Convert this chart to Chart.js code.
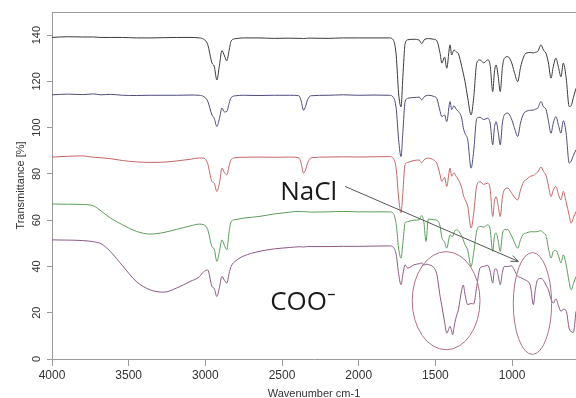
<!DOCTYPE html>
<html>
<head>
<meta charset="utf-8">
<script src="https://cdn.jsdelivr.net/npm/chart.js@4.4.1/dist/chart.umd.min.js"></script>
<style>
html, body { margin: 0; padding: 0; background: #fff; }
#wrap { width: 576px; height: 398px; position: relative; }
</style>
</head>
<body>
<div id="wrap"><canvas id="myChart"></canvas></div>
<script>
var wavenumbers = [
    4000, 3900, 3800, 3730, 3680, 3620, 3540, 3450, 3360, 3270,
    3190, 3100, 3040, 3010, 2985, 2957, 2942, 2925, 2908, 2892,
    2875, 2860, 2845, 2832, 2800, 2750, 2650, 2550, 2450, 2390,
    2375, 2360, 2348, 2332, 2310, 2200, 2100, 2000, 1900, 1800,
    1775, 1755, 1740, 1724, 1712, 1698, 1680, 1640, 1605, 1589,
    1575, 1561, 1546, 1510, 1490, 1469, 1458, 1440, 1426, 1404,
    1394, 1387, 1379, 1365, 1350, 1328, 1318, 1307, 1289, 1267,
    1250, 1230, 1209, 1185, 1159, 1143, 1126, 1115, 1104, 1090,
    1077, 1063, 1050, 1028, 1005, 985, 963, 945, 925, 909,
    880, 861, 848, 833, 811, 795, 779, 763, 746, 731,
    714, 697, 681, 666, 648, 627, 615, 600, 583
];

var seriesBlack = [
    139.0, 139.3, 139.2, 139.2, 139.0, 139.0, 139.0, 138.8, 138.8, 138.9,
    139.0, 139.0, 138.8, 138.2, 136.0, 128.0, 126.5, 120.6, 127.0, 133.3,
    131.0, 128.9, 133.5, 137.5, 138.5, 138.8, 138.8, 138.6, 138.7, 138.6,
    138.6, 138.5, 138.6, 138.7, 138.7, 138.6, 138.8, 138.8, 138.8, 138.8,
    138.0, 131.0, 115.0, 109.0, 122.0, 136.0, 138.0, 138.2, 137.8, 136.3,
    137.8, 138.4, 138.5, 138.2, 137.5, 132.0, 127.9, 130.5, 125.7, 135.8,
    131.4, 132.5, 133.6, 132.8, 132.0, 126.4, 123.5, 120.0, 112.9, 105.5,
    113.0, 128.0, 129.3, 128.0, 129.3, 127.0, 115.6, 124.0, 127.1, 122.0,
    115.6, 126.0, 130.0, 130.7, 128.5, 124.0, 119.9, 126.0, 130.5, 132.2,
    132.5, 132.3, 132.6, 132.9, 135.8, 133.5, 132.2, 128.0, 121.4, 126.5,
    130.0, 126.0, 122.0, 127.9, 122.0, 109.1, 109.5, 113.0, 117.0
];

var seriesBlue = [
    114.2, 114.5, 114.3, 114.6, 114.2, 114.4, 114.0, 113.9, 114.0, 114.0,
    114.0, 114.1, 114.0, 113.4, 111.5, 105.5, 104.0, 100.5, 104.0, 108.5,
    106.8, 107.0, 110.5, 113.0, 113.8, 114.0, 113.9, 114.0, 114.0, 113.8,
    111.5, 107.5, 109.0, 112.3, 113.8, 114.0, 114.2, 114.0, 114.1, 114.0,
    113.2, 108.0, 95.0, 87.5, 98.0, 111.0, 112.7, 113.0, 113.2, 112.0,
    113.2, 113.8, 114.0, 113.5, 112.5, 107.0, 104.8, 105.5, 102.6, 111.3,
    107.8, 108.5, 109.5, 108.0, 107.0, 104.1, 100.0, 97.5, 94.7, 82.5,
    90.0, 104.0, 104.5, 103.5, 104.1, 102.0, 92.6, 100.0, 102.6, 98.0,
    92.6, 102.0, 105.5, 106.3, 104.0, 100.0, 96.2, 102.0, 106.0, 107.0,
    107.5, 107.6, 108.0, 108.4, 111.3, 109.0, 108.0, 103.0, 97.6, 102.0,
    104.8, 101.0, 97.6, 103.0, 98.0, 84.7, 85.5, 88.0, 90.4
];

var seriesRed = [
    87.3, 87.6, 87.8, 87.2, 87.0, 86.6, 85.8, 85.2, 85.0, 85.1,
    85.6, 86.3, 86.9, 86.8, 84.5, 76.7, 76.0, 72.4, 76.0, 82.5,
    80.5, 79.6, 83.5, 86.2, 87.0, 87.2, 87.3, 87.2, 87.3, 87.0,
    84.5, 80.3, 81.5, 85.0, 87.0, 87.3, 87.4, 87.3, 87.4, 87.5,
    86.8, 82.0, 70.0, 63.2, 72.0, 84.0, 85.0, 85.8, 86.0, 84.8,
    86.0, 86.7, 86.8, 86.0, 84.5, 79.5, 76.7, 78.5, 74.6, 82.5,
    79.0, 79.8, 80.5, 79.0, 77.5, 74.0, 71.0, 69.0, 66.0, 56.6,
    63.0, 75.0, 76.7, 75.5, 76.0, 73.5, 61.6, 68.0, 70.2, 66.0,
    61.6, 70.0, 73.1, 73.9, 72.0, 70.0, 68.8, 73.0, 76.5, 77.5,
    79.0, 79.3, 80.0, 80.8, 83.0, 81.0, 79.5, 75.0, 70.2, 73.0,
    74.6, 71.0, 68.8, 72.5, 68.0, 62.0, 58.7, 61.0, 63.8
];

var seriesGreen = [
    67.0, 66.9, 66.8, 66.2, 64.0, 61.0, 58.0, 55.2, 54.0, 54.7,
    56.0, 57.5, 58.3, 58.0, 56.0, 48.6, 47.5, 42.2, 46.5, 51.5,
    49.0, 47.2, 55.0, 59.4, 60.3, 60.9, 61.6, 62.7, 63.5, 63.8,
    63.8, 63.7, 63.7, 63.6, 63.5, 63.6, 63.8, 63.6, 63.6, 63.6,
    63.0, 58.0, 48.0, 43.6, 50.0, 58.7, 59.4, 60.0, 60.2, 62.0,
    59.0, 50.8, 60.5, 60.2, 60.0, 57.3, 52.5, 50.5, 47.9, 53.7,
    53.0, 53.0, 54.5, 55.9, 55.5, 53.0, 51.5, 49.5, 47.0, 40.0,
    46.0, 55.5, 57.3, 57.0, 58.0, 56.0, 46.5, 53.0, 54.5, 51.0,
    46.5, 54.0, 55.9, 55.9, 53.5, 50.5, 47.9, 51.5, 54.0, 54.4,
    55.0, 55.0, 55.0, 55.1, 55.5, 54.5, 53.5, 48.0, 43.6, 46.5,
    47.0, 44.5, 41.5, 45.0, 41.0, 33.0, 29.9, 32.5, 35.7
];

var seriesPurple = [
    51.5, 51.4, 51.2, 50.7, 49.8, 46.5, 40.3, 33.5, 29.9, 28.9,
    30.6, 33.5, 35.5, 37.8, 38.5, 31.4, 30.5, 27.0, 31.0, 35.7,
    34.0, 32.8, 37.0, 40.0, 42.5, 44.5, 46.5, 47.6, 48.2, 48.5,
    48.5, 48.4, 48.5, 48.6, 48.6, 48.6, 48.7, 48.7, 48.8, 48.9,
    48.3, 45.0, 37.0, 32.1, 36.5, 40.7, 39.3, 40.7, 41.2, 41.5,
    40.5, 41.0, 40.8, 39.5, 36.4, 27.0, 23.0, 16.0, 11.2, 14.1,
    12.0, 10.5, 13.5, 18.0, 21.3, 30.0, 32.0, 28.0, 23.5, 24.0,
    23.8, 31.4, 39.3, 40.0, 40.5, 38.0, 32.8, 38.5, 39.0, 36.0,
    32.1, 37.5, 40.0, 40.0, 40.3, 38.5, 35.7, 35.3, 34.5, 34.0,
    31.5, 23.5, 30.0, 34.3, 34.8, 34.0, 32.0, 29.9, 26.0, 24.2,
    26.0, 23.0, 20.6, 21.5, 21.0, 13.0, 11.9, 11.5, 20.6
];

var xTicks = [4000, 3500, 3000, 2500, 2000, 1500, 1000];
var yTicks = [0, 20, 40, 60, 80, 100, 120, 140];
var xTitle = 'Wavenumber cm-1';
var yTitle = 'Transmittance [%]';

function points(values) {
    return wavenumbers.map(function (w, i) {
        return { x: w, y: values[i] };
    });
}

var traces = [
    { values: seriesBlack, color: '#3a3a3a' },
    { values: seriesBlue, color: '#4c4c7a' },
    { values: seriesRed, color: '#c46666' },
    { values: seriesGreen, color: '#5c9c5c' },
    { values: seriesPurple, color: '#8a5a84' }
];

var axisColor = '#9a9a9a';
var textColor = '#333';

// callouts, given in data units
var ellipses = [
    { wn: 1430, t: 25.2, dwn: 221, dt: 21.2 },
    { wn: 867, t: 24.0, dwn: 125, dt: 22.0 }
];
var arrow = { fromWn: 2089, fromT: 74.6, toWn: 959, toT: 42.2 };
var labels = [
    { text: 'NaCl', wn: 2512, t: 68.8 },
    { text: 'COO\u207B', wn: 2577, t: 21.3 }
];

var extras = {
    id: 'extras',
    afterDraw: function (chart) {
        var ctx = chart.ctx;
        var x = chart.scales.x;
        var y = chart.scales.y;
        var a = chart.chartArea;
        ctx.save();

        ctx.strokeStyle = axisColor;
        ctx.lineWidth = 1;
        ctx.beginPath();
        ctx.moveTo(a.left, Math.round(a.top) + 0.5);
        ctx.lineTo(a.right, Math.round(a.top) + 0.5);
        ctx.stroke();

        ctx.fillStyle = textColor;
        ctx.font = '11px "Liberation Sans", Arial, sans-serif';
        ctx.textAlign = 'center';
        ctx.textBaseline = 'alphabetic';
        yTicks.forEach(function (v) {
            ctx.save();
            ctx.translate(40, y.getPixelForValue(v));
            ctx.rotate(-Math.PI / 2);
            ctx.fillText(String(v), 0, 0);
            ctx.restore();
        });

        ctx.save();
        ctx.translate(23.5, (a.top + a.bottom) / 2);
        ctx.rotate(-Math.PI / 2);
        ctx.fillText(yTitle, 0, 0);
        ctx.restore();

        ctx.font = '11px "Liberation Sans Narrow", "Liberation Sans", Arial, sans-serif';
        ctx.fillText(xTitle, (a.left + a.right) / 2, 396.5);

        ctx.strokeStyle = '#b07080';
        ctx.lineWidth = 1;
        ellipses.forEach(function (e) {
            var cx = x.getPixelForValue(e.wn);
            var cy = y.getPixelForValue(e.t);
            var rx = Math.abs(x.getPixelForValue(e.wn + e.dwn) - cx);
            var ry = Math.abs(y.getPixelForValue(e.t + e.dt) - cy);
            ctx.beginPath();
            ctx.ellipse(cx, cy, rx, ry, 0, 0, Math.PI * 2);
            ctx.stroke();
        });

        var x1 = x.getPixelForValue(arrow.fromWn), y1 = y.getPixelForValue(arrow.fromT);
        var x2 = x.getPixelForValue(arrow.toWn), y2 = y.getPixelForValue(arrow.toT);
        var ang = Math.atan2(y2 - y1, x2 - x1);
        ctx.strokeStyle = '#555';
        ctx.beginPath();
        ctx.moveTo(x1, y1);
        ctx.lineTo(x2, y2);
        ctx.moveTo(x2 - 8 * Math.cos(ang - 0.4), y2 - 8 * Math.sin(ang - 0.4));
        ctx.lineTo(x2, y2);
        ctx.lineTo(x2 - 8 * Math.cos(ang + 0.4), y2 - 8 * Math.sin(ang + 0.4));
        ctx.stroke();

        ctx.fillStyle = '#1a1a1a';
        ctx.font = '26px "Open Sans", sans-serif';
        ctx.textAlign = 'left';
        labels.forEach(function (l) {
            ctx.fillText(l.text, x.getPixelForValue(l.wn), y.getPixelForValue(l.t));
        });

        ctx.restore();
    }
};

const ctx = document.getElementById('myChart').getContext('2d');

const myChart = new Chart(ctx, {
    type: 'line',
    data: {
        datasets: traces.map(function (t) {
            return {
                data: points(t.values),
                borderColor: t.color,
                borderWidth: 1,
                pointRadius: 0,
                fill: false,
                cubicInterpolationMode: 'monotone'
            };
        })
    },
    options: {
        responsive: true,
        maintainAspectRatio: false,
        animation: false,
        events: [],
        layout: { padding: { top: 12, left: 0, right: 0, bottom: 0 } },
        plugins: {
            legend: { display: false },
            tooltip: { enabled: false }
        },
        scales: {
            x: {
                type: 'linear',
                reverse: true,
                min: 583,
                max: 4000,
                afterBuildTicks: function (s) {
                    s.ticks = xTicks.map(function (v) { return { value: v }; });
                },
                afterFit: function (s) { s.height = 39; },
                ticks: {
                    autoSkip: false,
                    maxRotation: 0,
                    padding: 2,
                    color: textColor,
                    font: { family: '"Liberation Sans Narrow", "Liberation Sans", Arial, sans-serif', size: 12 },
                    callback: function (v) { return String(v); }
                },
                grid: { display: true, drawOnChartArea: false, drawTicks: true, tickLength: 7, color: axisColor },
                border: { display: true, color: axisColor }
            },
            y: {
                min: 0,
                max: 150,
                afterBuildTicks: function (s) {
                    s.ticks = yTicks.map(function (v) { return { value: v }; });
                },
                afterFit: function (s) { s.width = 52; },
                ticks: { display: false },
                grid: { display: true, drawOnChartArea: false, drawTicks: true, tickLength: 5, color: axisColor },
                border: { display: true, color: axisColor }
            }
        }
    },
    plugins: [extras]
});
</script>
</body>
</html>
